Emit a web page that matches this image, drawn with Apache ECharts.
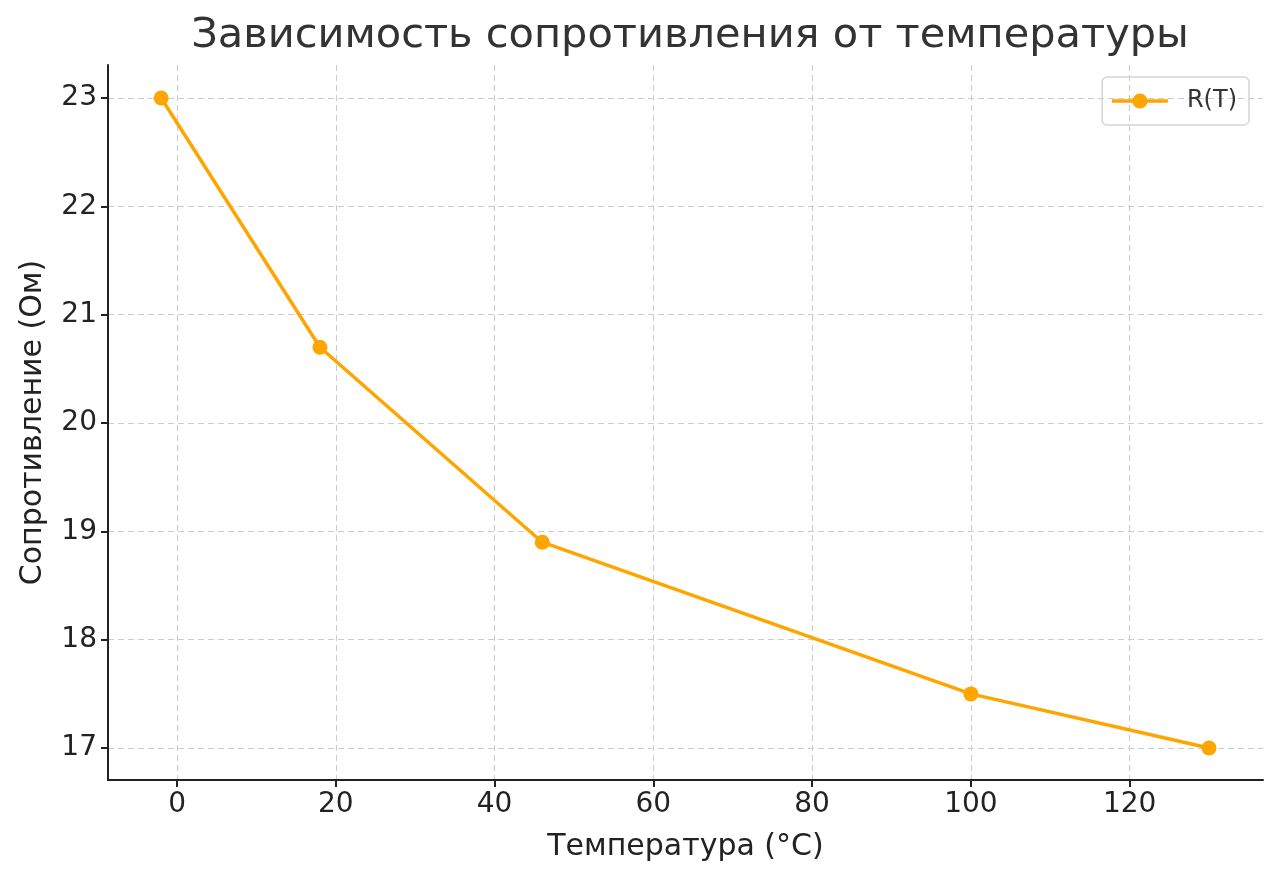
<!DOCTYPE html>
<html>
<head>
<meta charset="utf-8">
<script src="https://cdn.jsdelivr.net/npm/echarts@6/dist/echarts.min.js"></script>
<style>
  html, body { margin: 0; padding: 0; background: #fff; }
  #chart { width: 1280px; height: 880px; }
</style>
</head>
<body>
<div id="chart"></div>
<script>
// температура (°C) и сопротивление (Ом)
const temps = [-2, 18, 46, 100, 130];
const resist = [23.0, 20.7, 18.9, 17.5, 17.0];
const xTicks = [0, 20, 40, 60, 80, 100, 120];
const yTicks = [17, 18, 19, 20, 21, 22, 23];

const font = "DejaVu Sans";
const chart = echarts.init(document.getElementById("chart"));

chart.setOption({
  animation: false,
  textStyle: { fontFamily: font },
  title: {
    text: "Зависимость сопротивления от температуры",
    left: 685,
    textAlign: "center",
    top: 10,
    textStyle: { fontSize: 41.5, fontWeight: "normal", color: "#333", fontFamily: font },
  },
  legend: {
    right: 31,
    top: 77,
    itemWidth: 56,
    itemHeight: 19,
    padding: [12, 12, 12, 8],
    borderColor: "#d5d5d5",
    borderWidth: 1.5,
    borderRadius: 5,
    lineStyle: { width: 3.5 },
    textStyle: { fontSize: 24, color: "#333", fontFamily: font, padding: [2, 0, 0, 14] },
    data: ["R(T)"],
  },
  grid: { left: 108, right: 17, top: 65, bottom: 100, outerBoundsMode: "none" },
  xAxis: {
    type: "value",
    min: -8.7,
    max: 136.8,
    name: "Температура (°C)",
    nameLocation: "middle",
    nameGap: 52,
    nameTextStyle: { fontSize: 30, color: "#222", fontFamily: font },
    axisLine: { onZero: false, lineStyle: { color: "#222", width: 2 } },
    axisTick: { customValues: xTicks, length: 7, lineStyle: { color: "#222", width: 2 } },
    axisLabel: { customValues: xTicks, fontSize: 28, color: "#222", margin: 11 },
    splitLine: { show: true, lineStyle: { color: "#ccc", type: [6, 4], width: 1 } },
  },
  yAxis: {
    type: "value",
    min: 16.705,
    max: 23.305,
    name: "Сопротивление (Ом)",
    nameLocation: "middle",
    nameGap: 60,
    nameTextStyle: { fontSize: 30, color: "#222", fontFamily: font },
    axisLine: { show: true, onZero: false, lineStyle: { color: "#222", width: 2 } },
    axisTick: { show: true, customValues: yTicks, length: 7, lineStyle: { color: "#222", width: 2 } },
    axisLabel: { customValues: yTicks, fontSize: 28, color: "#222", margin: 11, padding: [4, 0, 0, 0] },
    splitLine: { show: true, lineStyle: { color: "#ccc", type: [6, 4], width: 1 } },
  },
  series: [
    {
      name: "R(T)",
      type: "line",
      data: temps.map((t, i) => [t, resist[i]]),
      symbol: "circle",
      symbolSize: 15,
      lineStyle: { color: "#FFA500", width: 3.5 },
      itemStyle: { color: "#FFA500" },
    },
  ],
});
</script>
</body>
</html>
